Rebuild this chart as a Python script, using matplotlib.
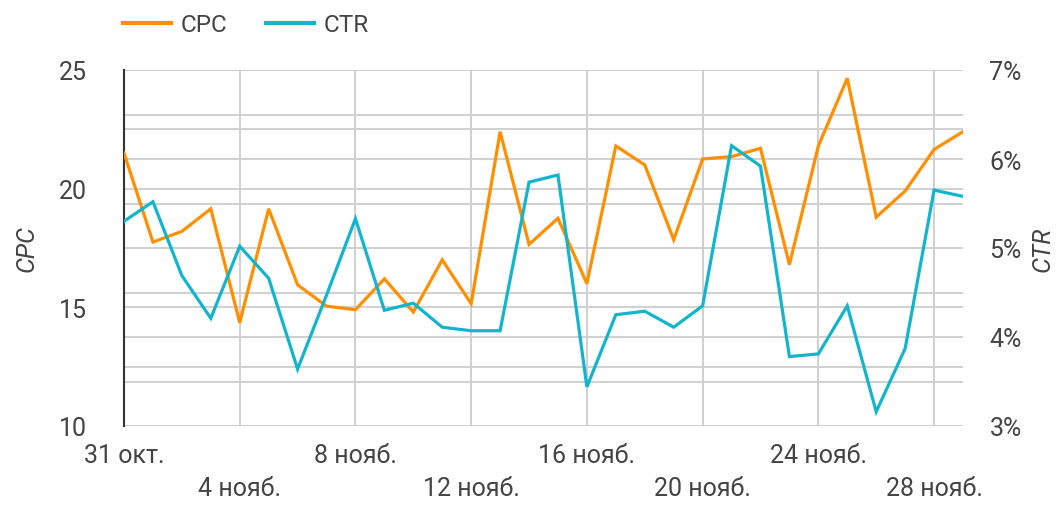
import numpy as np
from matplotlib import pyplot as plt
from matplotlib.lines import Line2D

plt.rcParams['font.family'] = ['Roboto', 'DejaVu Sans']

# daily values, 31 Oct .. 29 Nov
days = np.arange(30)
cpc = [21.5, 17.75, 18.2, 19.15, 14.35, 19.15, 15.95, 15.05, 14.9, 16.2,
       14.8, 17.0, 15.15, 22.4, 17.65, 18.75, 16.0, 21.8, 21.0, 17.85,
       21.25, 21.35, 21.7, 16.8, 21.8, 24.65, 18.8, 19.9, 21.65, 22.4]
ctr = [5.30, 5.52, 4.69, 4.21, 5.02, 4.66, 3.64, 4.47, 5.33, 4.30,
       4.38, 4.11, 4.07, 4.07, 5.74, 5.82, 3.44, 4.25, 4.29, 4.11,
       4.35, 6.15, 5.92, 3.78, 3.81, 4.35, 3.16, 3.87, 5.65, 5.58]

tick_days = [0, 4, 8, 12, 16, 20, 24, 28]
tick_labels = ['31 окт.', '4 нояб.', '8 нояб.', '12 нояб.',
               '16 нояб.', '20 нояб.', '24 нояб.', '28 нояб.']

cpc_ticks = [10, 15, 20, 25]
cpc_grid = [10, 12.5, 15, 17.5, 20, 22.5, 25]
ctr_ticks = [3, 4, 5, 6, 7]
ctr_grid = [3, 3.5, 4, 4.5, 5, 5.5, 6, 6.5, 7]

orange = '#ff8f00'
cyan = '#12b5cb'
grid_c = '#d0d0d0'
text_c = '#444444'
fs = 18
fs_leg = 17.5

W, H = 1058, 506
fig = plt.figure(figsize=(W / 100, H / 100), dpi=100)
ax = fig.add_axes([124 / W, 1 - 427 / H, (963 - 124) / W, (427 - 71) / H])
axg = ax.twinx()   # right-axis grid, drawn underneath
ax2 = ax.twinx()   # CTR line + right ticks, drawn on top

axg.set_zorder(0)
ax.set_zorder(1)
ax2.set_zorder(2)
ax.patch.set_visible(False)

for a in (ax, axg, ax2):
    for s in a.spines.values():
        s.set_visible(False)
    a.set_xlim(0, days[-1])
    a.tick_params(length=0)

ax.spines['left'].set_visible(True)
ax.spines['left'].set_color('#333333')
ax.spines['left'].set_linewidth(1.5)

# grids
ax.set_ylim(10, 25)
axg.set_ylim(3, 7)
ax2.set_ylim(3, 7)
for v in cpc_grid:
    ax.axhline(v, color=grid_c, lw=1.4, zorder=0)
for v in ctr_grid:
    axg.axhline(v, color=grid_c, lw=1.4, zorder=0)
for d in tick_days[1:]:
    ax.axvline(d, color=grid_c, lw=1.4, zorder=0)

ax.plot(days, cpc, color=orange, lw=2.3, zorder=3, solid_joinstyle='miter')
ax2.plot(days, ctr, color=cyan, lw=2.3, zorder=3, solid_joinstyle='miter')

# ticks
ax.set_yticks(cpc_ticks)
ax.set_yticklabels([str(v) for v in cpc_ticks])
ax.tick_params(axis='y', pad=27, labelsize=fs, labelcolor=text_c)
axg.set_yticks([])
ax2.set_yticks(ctr_ticks)
ax2.set_yticklabels([f'{v}%' for v in ctr_ticks])
ax2.tick_params(axis='y', pad=19, labelsize=fs, labelcolor=text_c)

ax.set_xticks(tick_days)
ax.set_xticklabels([lab if i % 2 == 0 else '\n' + lab
                    for i, lab in enumerate(tick_labels)],
                   linespacing=1.5)
ax.tick_params(axis='x', pad=12, labelsize=fs, labelcolor=text_c)

ax.set_ylabel('CPC', fontsize=fs, color=text_c, style='italic')
ax.yaxis.set_label_coords(-85 / 839, 0.5)
ax2.set_ylabel('CTR', fontsize=fs, color=text_c, style='italic')
ax2.yaxis.set_label_coords(1 + 68 / 839, 0.5)

handles = [Line2D([], [], color=orange, lw=3), Line2D([], [], color=cyan, lw=3)]
leg = fig.legend(handles, ['CPC', 'CTR'], loc='center left',
                 bbox_to_anchor=(101 / W, 1 - 26 / H), ncol=2, frameon=False,
                 fontsize=fs_leg, handlelength=2.0, handletextpad=0.36,
                 columnspacing=1.6)
for t in leg.get_texts():
    t.set_color(text_c)

fig.savefig('out.png', dpi=100)
